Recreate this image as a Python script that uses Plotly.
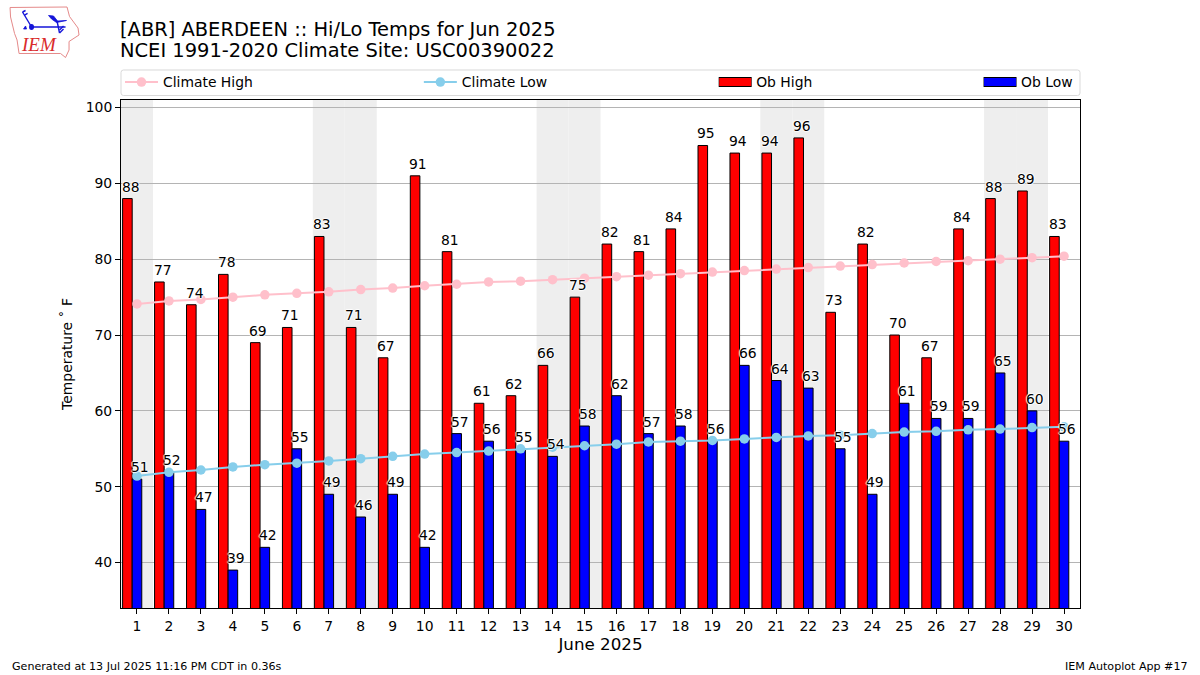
import plotly.graph_objects as go

days = list(range(1, 31))
ob_high = [88,77,74,78,69,71,83,71,67,91,81,61,62,66,75,82,81,84,95,94,94,96,73,82,70,67,84,88,89,83]
ob_low = [51,52,47,39,42,55,49,46,49,42,57,56,55,54,58,62,57,58,56,66,64,63,55,49,61,59,59,65,60,56]
climate_high = [74.1,74.5,74.7,75.0,75.3,75.5,75.7,76.0,76.2,76.5,76.7,77.0,77.1,77.3,77.5,77.7,77.9,78.1,78.3,78.5,78.7,78.9,79.1,79.3,79.5,79.7,79.8,80.0,80.2,80.4]
climate_low = [51.4,51.9,52.2,52.6,52.9,53.1,53.4,53.7,54.0,54.3,54.5,54.7,55.0,55.2,55.4,55.6,55.9,56.0,56.1,56.3,56.5,56.7,56.8,57.0,57.2,57.3,57.5,57.6,57.8,57.9]
weekend_days = [1,7,8,14,15,21,22,28,29]
y_ticks = [40,50,60,70,80,90,100]
title_line_1 = "[ABR] ABERDEEN :: Hi/Lo Temps for Jun 2025"
title_line_2 = "NCEI 1991-2020 Climate Site: USC00390022"
footer_left = "Generated at 13 Jul 2025 11:16 PM CDT in 0.36s"
footer_right = "IEM Autoplot App #17"

W, H = 1200, 675
L, R, T, B = 120.5, 1080, 100, 608
FONT = "DejaVu Sans"
HALO = "-1px 0 1px white, 1px 0 1px white, 0 -1px 1px white, 0 1px 1px white"

def px(x):
    return (x - L) / (R - L)

def py(y):
    return (B - y) / (B - T)

def path(points, close=False):
    s = "M" + " L".join(f"{px(a):.5f},{py(b):.5f}" for a, b in points)
    return s + (" Z" if close else "")

fig = go.Figure()
fig.add_bar(x=days, y=ob_high, name="Ob High", width=0.3, offset=-0.45, showlegend=False,
            marker=dict(color="#ff0000", line=dict(color="black", width=1)))
fig.add_bar(x=days, y=ob_low, name="Ob Low", width=0.3, offset=-0.15, showlegend=False,
            marker=dict(color="#0000ff", line=dict(color="black", width=1)))
fig.add_scatter(x=days, y=climate_high, name="Climate High", mode="lines+markers",
                line=dict(color="#ffc0cb", width=2), marker=dict(color="#ffc0cb", size=9.5), legend="legend")
fig.add_scatter(x=days, y=climate_low, name="Climate Low", mode="lines+markers",
                line=dict(color="#87ceeb", width=2), marker=dict(color="#87ceeb", size=9.5), legend="legend2")
# legend entries for the bars: a wide swatch like the reference's
fig.add_scatter(x=[None], y=[None], name="Ob High", mode="lines", line=dict(color="#ff0000", width=8), legend="legend3")
fig.add_scatter(x=[None], y=[None], name="Ob Low", mode="lines", line=dict(color="#0000ff", width=8), legend="legend4")

shapes = [dict(type="rect", xref="x", yref="paper", x0=d-0.5, x1=d+0.5, y0=0, y1=1,
               fillcolor="#eeeeee", line_width=0, layer="below") for d in weekend_days]

# legend frame
shapes.append(dict(type="path", xref="paper", yref="paper", layer="above",
    path=(f"M{px(123):.5f},{py(70):.5f} L{px(1077.5):.5f},{py(70):.5f} "
          f"Q{px(1080):.5f},{py(70):.5f} {px(1080):.5f},{py(72.5):.5f} L{px(1080):.5f},{py(93):.5f} "
          f"Q{px(1080):.5f},{py(95.5):.5f} {px(1077.5):.5f},{py(95.5):.5f} L{px(123):.5f},{py(95.5):.5f} "
          f"Q{px(120.5):.5f},{py(95.5):.5f} {px(120.5):.5f},{py(93):.5f} L{px(120.5):.5f},{py(72.5):.5f} "
          f"Q{px(120.5):.5f},{py(70):.5f} {px(123):.5f},{py(70):.5f} Z"),
    line=dict(color="#d9d9d9", width=1), fillcolor="white"))
# black edge behind the two bar swatches
for x0 in (718.5, 983.5):
    shapes.append(dict(type="rect", xref="paper", yref="paper", layer="above",
                       x0=px(x0), x1=px(x0 + 33), y0=py(77), y1=py(87), fillcolor="black", line_width=0))

# logo
iowa = [(9.5,7.5),(66.5,7),(69,16.5),(77.5,28),(78.5,35),(68.5,41.5),(68.5,50),(65,57.5),(60,53.5),(18.5,53.5),(16.5,40),(14,33.5),(10,17)]
shapes.append(dict(type="path", xref="paper", yref="paper", path=path(iowa, True),
                   line=dict(color="#e58a8a", width=1), fillcolor="white", layer="above"))
for seg in [[(31,27),(65,27)], [(31,27),(22,12)], [(22,12),(25,10.5)], [(24,15),(27,13.5)],
            [(56.5,21),(59,33)], [(59,33),(63,29)], [(59,30),(63,26)]]:
    shapes.append(dict(type="path", xref="paper", yref="paper", path=path(seg),
                       line=dict(color="#1414d8", width=1.4), layer="above"))
for poly in [[(48,15.5),(53,16),(57,21),(66,20.5),(56,22.5),(51,19)],
             [(23,29),(25,26),(26,29)]]:
    shapes.append(dict(type="path", xref="paper", yref="paper", path=path(poly, True),
                       line=dict(color="#1414d8", width=0.8), fillcolor="#1414d8", layer="above"))
shapes.append(dict(type="circle", xref="paper", yref="paper", x0=px(28.5), x1=px(33.5), y0=py(24), y1=py(30),
                   line_width=0, fillcolor="#1414d8", layer="above"))

annotations = []
def add_text(x, y, text, size, xanchor="left", color="black", family=FONT, **kw):
    annotations.append(dict(xref="paper", yref="paper", x=px(x), y=py(y), text=text, showarrow=False,
                            xanchor=xanchor, yanchor="middle", borderpad=0,
                            font=dict(family=family, size=size, color=color), **kw))

add_text(118.5, 29, title_line_1, 19.44)
add_text(118.5, 50.5, title_line_2, 19.44)
add_text(10.5, 666, footer_left, 11.1)
add_text(1189, 666, footer_right, 11.1, xanchor="right")
add_text(19, 45, "<i>IEM</i>", 19, color="#d92b2b", family="Liberation Serif")

for d, hi, lo in zip(days, ob_high, ob_low):
    for xv, yv in ((d - 0.45, hi), (d - 0.15, lo)):
        annotations.append(dict(xref="x", yref="y", x=xv, y=yv, text=str(yv), showarrow=False,
                                xanchor="left", yanchor="bottom", borderpad=0, xshift=-2, yshift=3,
                                font=dict(family=FONT, size=13.9, color="black", shadow=HALO)))

legend_common = dict(orientation="v", bgcolor="rgba(0,0,0,0)", borderwidth=0, itemwidth=30,
                     font=dict(family=FONT, size=13.9, color="black"), xanchor="left", yanchor="middle",
                     y=py(82.5), itemclick=False, itemdoubleclick=False)

fig.update_layout(
    width=W, height=H, autosize=False,
    margin=dict(l=L, r=W-R, t=T, b=H-B, pad=0),
    paper_bgcolor="white", plot_bgcolor="white",
    barmode="overlay", showlegend=True,
    font=dict(family=FONT, size=13.9, color="black"),
    shapes=shapes, annotations=annotations,
    legend=dict(legend_common, x=px(119.5), itemwidth=33),
    legend2=dict(legend_common, x=px(418.5), itemwidth=33),
    legend3=dict(legend_common, x=px(714), itemwidth=32),
    legend4=dict(legend_common, x=px(979), itemwidth=32),
    xaxis=dict(range=[0.5, 30.5], tickmode="array", tickvals=days, ticktext=[str(d) for d in days],
               showgrid=False, zeroline=False, showline=True, linecolor="black", linewidth=1, mirror=True,
               ticks="outside", ticklen=5, tickwidth=1, tickcolor="black", tickfont=dict(size=13.9),
               title=dict(text="June 2025", font=dict(size=16.7), standoff=5)),
    yaxis=dict(range=[34, 101], tickmode="array", tickvals=y_ticks,
               showgrid=True, gridcolor="#b4b4b4", gridwidth=1, zeroline=False,
               showline=True, linecolor="black", linewidth=1, mirror=True,
               ticks="outside", ticklen=5, tickwidth=1, tickcolor="black", tickfont=dict(size=13.9),
               title=dict(text="Temperature ˚ F", font=dict(size=13.9), standoff=9)),
)
fig.write_html("out.html", config=dict(displayModeBar=False), post_script="document.body.style.margin='0';")
